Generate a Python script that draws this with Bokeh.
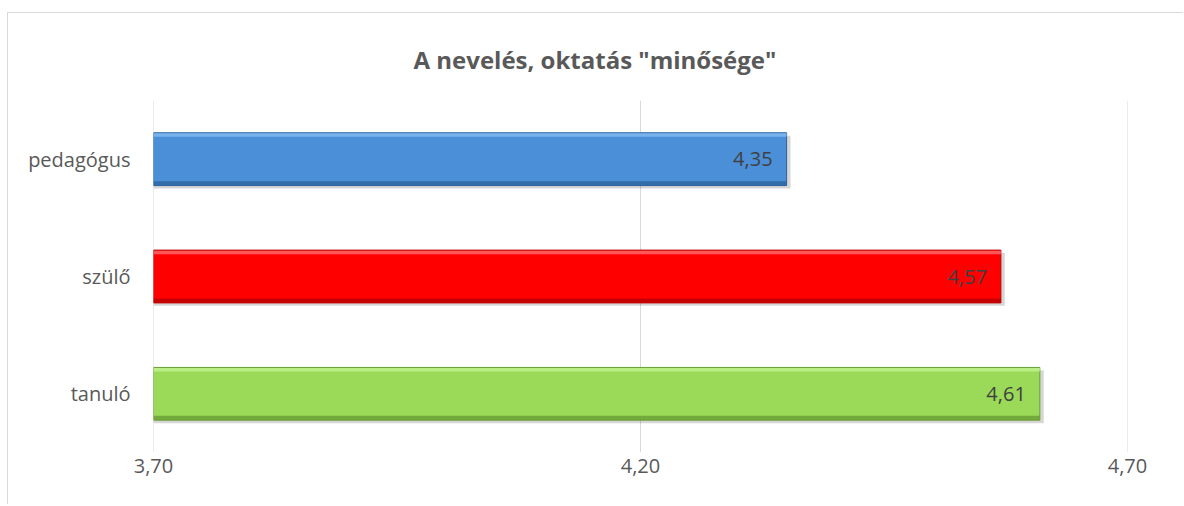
from bokeh.plotting import figure
from bokeh.models import ColumnDataSource, FixedTicker, LabelSet, Title, Span
from bokeh.transform import dodge
from bokeh.core.properties import value
from bokeh.embed import file_html
from bokeh.resources import INLINE

# ---- data ----
categories = ["pedagógus", "szülő", "tanuló"]
scores = [4.35, 4.57, 4.61]
x_ticks = [3.70, 4.20, 4.70]
x_tick_labels = ["3,70", "4,20", "4,70"]
title_text = 'A nevelés, oktatás "minősége"'

# ---- styles ----
base_colors = ["#4A8FD8", "#FF0000", "#9ADA58"]
light_colors = ["#7DB6EE", "#FF6060", "#BCEE8C"]
dark_colors = ["#2C639E", "#B80000", "#6A9E36"]
FONT = "Open Sans"
TEXT = "#595959"
X0 = x_ticks[0]

src = ColumnDataSource(dict(
    cat=categories,
    val=scores,
    left=[X0] * len(scores),
    shadow_right=[v + 0.004 for v in scores],
    base=base_colors,
    light=light_colors,
    dark=dark_colors,
    label=[f"{v:.2f}".replace(".", ",") for v in scores],
))

p = figure(
    width=1176, height=492,
    y_range=list(reversed(categories)),
    x_range=(x_ticks[0], x_ticks[-1]),
    output_backend="svg", toolbar_location=None,
    min_border_left=145, min_border_right=57,
    min_border_top=87, min_border_bottom=53,
)
p.styles = {"border-top": "1px solid #D9D9D9", "border-left": "1px solid #D9D9D9",
            "margin-top": "12px", "margin-left": "7px"}
p.outline_line_color = None
p.background_fill_color = "white"
p.border_fill_color = "white"

t = Title(text=title_text, align="left", offset=260, text_font=FONT, text_font_size="24px",
          text_font_style="bold", text_color=TEXT, standoff=49)
p.add_layout(t, "above")

# vertical gridlines
for xt in x_ticks:
    p.add_layout(Span(location=xt, dimension="height", line_color="#D9D9D9",
                      line_width=1, level="underlay"))

H = 0.45
# shadow
p.hbar(y=dodge("cat", -0.025, range=p.y_range), left="left", right="shadow_right", height=H,
       source=src, fill_color="#000000", fill_alpha=0.16, line_color=None)
# main bar
p.hbar(y="cat", left="left", right="val", height=H, source=src,
       fill_color="base", line_color="dark", line_width=1)
# top highlight
p.hbar(y=dodge("cat", 0.205, range=p.y_range), left="left", right="val", height=0.03,
       source=src, fill_color="light", line_color=None, fill_alpha=0.9)
# bottom darker edge
p.hbar(y=dodge("cat", -0.205, range=p.y_range), left="left", right="val", height=0.035,
       source=src, fill_color="dark", line_color=None, fill_alpha=0.8)

labels = LabelSet(x="val", y="cat", text="label", source=src, x_offset=-14,
                  text_align="right", text_baseline="middle",
                  text_font=value(FONT), text_font_size="20px", text_color="#404040")
p.add_layout(labels)

# axes
p.xaxis.ticker = FixedTicker(ticks=x_ticks)
p.xaxis.major_label_overrides = {t_: l for t_, l in zip(x_ticks, x_tick_labels)}
for ax in (p.xaxis[0], p.yaxis[0]):
    ax.axis_line_color = None
    ax.major_tick_line_color = None
    ax.minor_tick_line_color = None
    ax.major_tick_out = 0
    ax.major_tick_in = 0
    ax.minor_tick_out = 0
    ax.major_label_text_font = FONT
    ax.major_label_text_font_size = "20px"
    ax.major_label_text_color = TEXT
p.xaxis.major_label_standoff = 6
p.yaxis.major_label_standoff = 23

p.xgrid.grid_line_color = None
p.ygrid.grid_line_color = None

open("out.html", "w").write(file_html(p, INLINE))
